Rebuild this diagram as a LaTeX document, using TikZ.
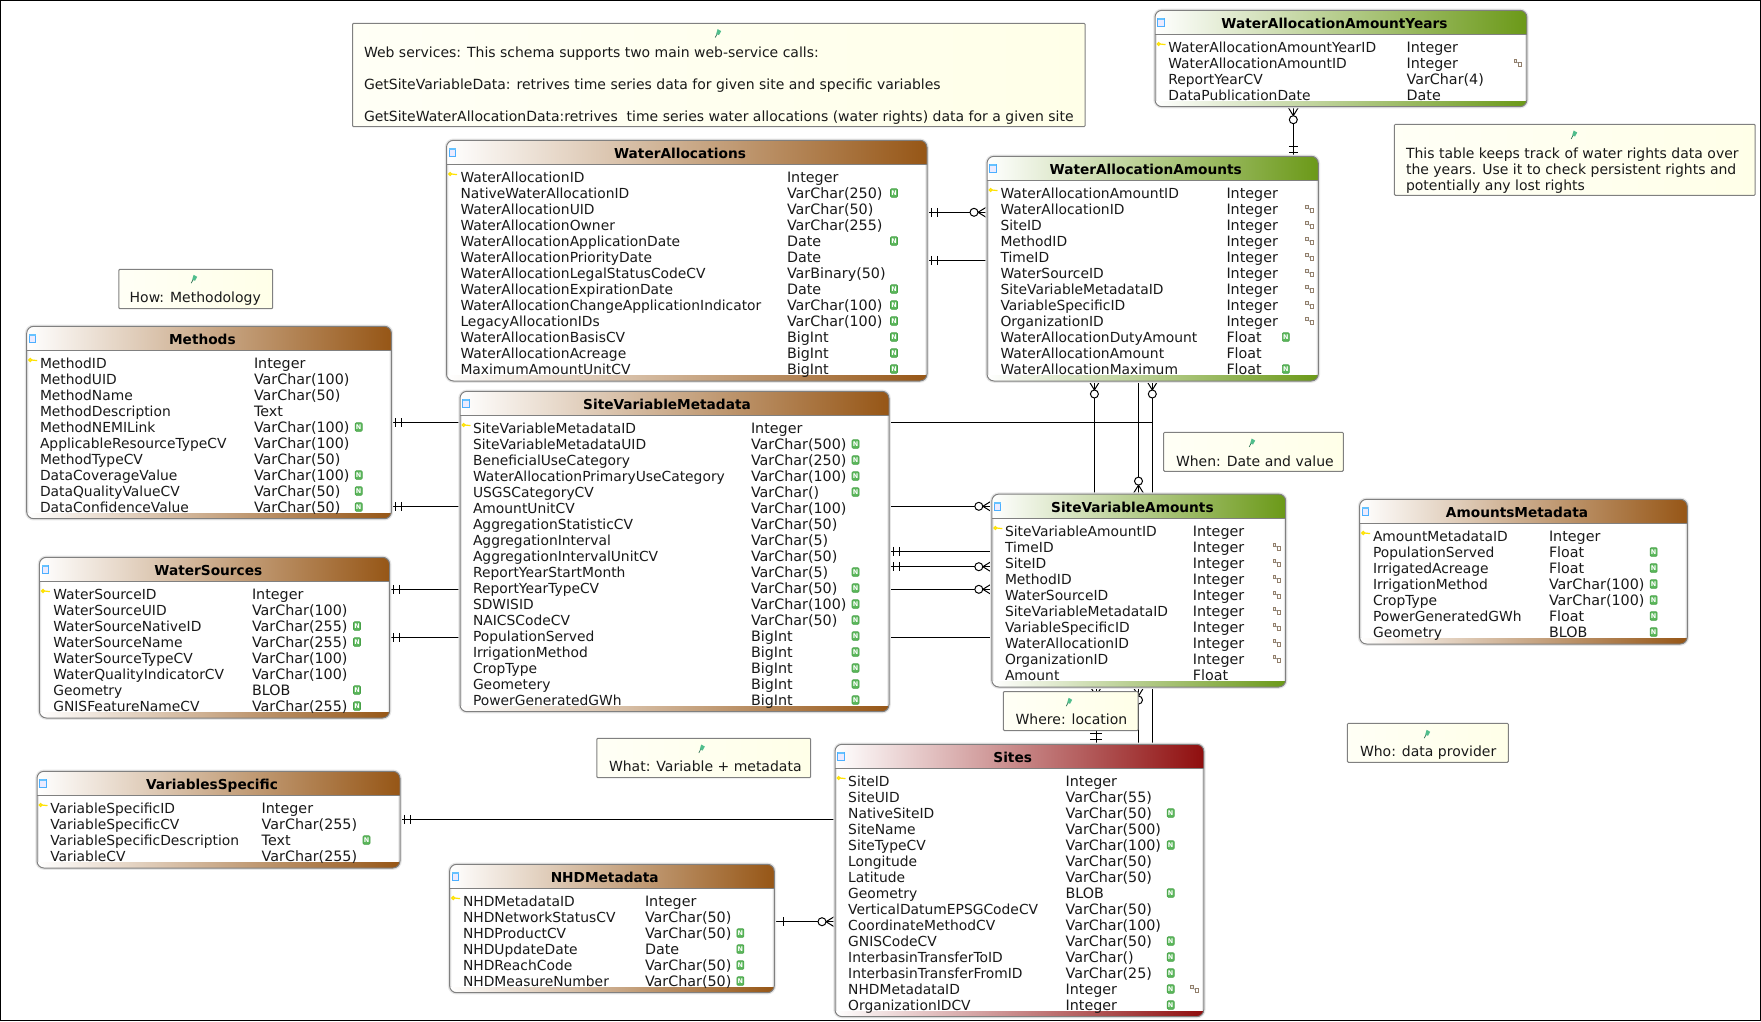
\documentclass[tikz,border=0pt]{standalone}
\usepackage{fontspec}
\setmainfont{DejaVu Sans}
\usetikzlibrary{calc}
\pgfdeclarelayer{bg}
\pgfsetlayers{bg,main}
\definecolor{hbrown}{RGB}{150,86,22}
\definecolor{hgreen}{RGB}{107,153,24}
\definecolor{hred}{RGB}{143,14,14}
\definecolor{edgegray}{RGB}{128,128,128}
\definecolor{halogray}{RGB}{230,230,230}
\definecolor{notefill}{RGB}{255,255,232}
\definecolor{txt}{RGB}{25,25,25}
\definecolor{nfill}{RGB}{92,184,92}
\definecolor{ndraw}{RGB}{70,160,70}
\definecolor{pinc}{RGB}{80,190,140}
\tikzset{
  tablebox/.style={draw=halogray,line width=3.5pt,fill=white,rounded corners=7pt,inner sep=0,outer sep=0},
  tableedge/.style={draw=edgegray,line width=1pt,rounded corners=7pt},
  headrule/.style={draw=edgegray,line width=1pt},
  titletext/.style={font=\fontsize{13.7}{16}\selectfont\bfseries,text=black,inner sep=0,outer sep=0,anchor=base},
  rowtext/.style={font=\fontsize{13.85}{16}\selectfont,text=txt,inner sep=0,outer sep=0,anchor=base west},
  typetext/.style={font=\fontsize{14.3}{16}\selectfont,text=txt,inner sep=0,outer sep=0,anchor=base west},
  nicon/.style={draw=ndraw,fill=nfill,text=white,rounded corners=1pt,minimum width=7pt,minimum height=8.5pt,inner sep=0,outer sep=0,line width=.6pt,font=\fontsize{6.5}{7}\selectfont\bfseries},
  notebox/.style={draw=edgegray,line width=1pt,left color=white!60!notefill,right color=notefill,inner sep=0,outer sep=0,rounded corners=1pt},
  notetext/.style={font=\fontsize{14}{16}\selectfont,text=txt,inner sep=0,outer sep=0,anchor=base west},
  conn/.style={draw=black,line width=1pt},
  markline/.style={draw=black,line width=1pt},
}
\newcommand\tblgeom[5]{\def\gL{#1}\def\gT{#2}\def\gR{#3}\def\gB{#4}\def\gC{#5}}
\def\flagO{}
\def\flagN{\node[nicon] (\tn-n\i) at (\nx,\ry) {N};}
\def\flagF{\fkicon{\fx}{\ry}}
\def\flagB{\flagN\flagF}
\newcommand\fkicon[2]{%
  \draw[line width=.7pt,draw=gray!70!brown,fill=gray!15] ({#1-4},{#2-4}) rectangle ++(2.6,3.6);
  \draw[line width=.7pt,draw=gray!70!brown,fill=white] ({#1+.6},{#2-.6}) rectangle ++(2.8,3.6);
  \draw[line width=.5pt,draw=gray] ({#1-1.4},{#2-1}) -- ({#1+.6},{#2+.6});
}
\newcommand\keyicon[2]{%
  \draw[line width=1.3pt,draw=yellow!85!orange] ({#1+1.6},{#2}) circle (1.4);
  \draw[line width=1.2pt,draw=yellow!85!orange] ({#1+3},{#2}) -- ({#1+8.5},{#2+.6});
}
\newcommand\pinicon[2]{%
  \fill[pinc] ({#1-.4},{#2-4.2}) -- ({#1+3.2},{#2-2.2}) -- ({#1+1},{#2+1.8}) -- ({#1-1.8},{#2+.6}) -- cycle;
  \draw[line width=.7pt,draw=pinc!60!black] ({#1-1},{#2+.8}) -- ({#1-2.8},{#2+4.2});
}
\newcommand\tbl[9]{%
  \def\tn{#1}\def\nx{#6}\def\fx{#7}%
  \pgfmathsetmacro\gW{\gR-\gL}\pgfmathsetmacro\gH{\gB-\gT}%
  \pgfmathsetmacro\gCx{(\gL+\gR)/2}\pgfmathsetmacro\gCy{(\gT+\gB)/2}%
  \pgfmathsetmacro\gHb{\gT+24}\pgfmathsetmacro\gBb{\gB-5.5}\pgfmathsetmacro\gTb{\gT+18}%
  \node[tablebox,minimum width=\gW pt,minimum height=\gH pt] (#1) at (\gCx,\gCy) {};
  \begin{scope}
    \clip[rounded corners=7pt] (\gL,\gT) rectangle (\gR,\gB);
    \shade[left color=white,right color=\gC] (\gL,\gT) rectangle (\gR,\gHb);
    \shade[left color=white,right color=\gC] (\gL,\gBb) rectangle (\gR,\gB);
  \end{scope}
  \draw[headrule] (\gL,\gHb) -- (\gR,\gHb);
  \draw[tableedge] (\gL,\gT) rectangle (\gR,\gB);
  \node[titletext] (#1-title) at (#3,\gTb) {#2};
  \draw[line width=.8pt,draw=blue!45!cyan!70,fill=blue!8] ({\gL+2.5},{\gT+8}) rectangle ({\gL+9},{\gT+16});
  \fill[blue!40!cyan!60] ({\gL+2.5},{\gT+8}) rectangle ({\gL+9},{\gT+10});
  \keyicon{\gL+2}{#8-3}
  \foreach \rn/\rt/\rf [count=\i from 0] in {#9}{%
    \pgfmathsetmacro\ry{#8+16*\i}\pgfmathsetmacro\ryb{\ry+5.3}%
    \node[rowtext] (#1-r\i) at (#4,\ryb) {\rn};
    \node[typetext] (#1-t\i) at (#5,\ryb) {\rt};
    \csname flag\rf\endcsname
  }%
}
\newcommand\notebx[5]{%
  \pgfmathsetmacro\gW{#4-#2}\pgfmathsetmacro\gH{#5-#3}%
  \pgfmathsetmacro\gCx{(#2+#4)/2}\pgfmathsetmacro\gCy{(#3+#5)/2}%
  \node[notebox,minimum width=\gW pt,minimum height=\gH pt] (#1) at (\gCx,\gCy) {};
}
\newcommand\barsmark[2]{\begin{scope}[shift={#1},rotate=#2]
  \draw[markline] (4,-4.5) -- (4,4.5) (10,-4.5) -- (10,4.5);\end{scope}}
\newcommand\barsmarkw[2]{\begin{scope}[shift={#1},rotate=#2]
  \draw[markline] (5,-6) -- (5,6) (11,-6) -- (11,6);\end{scope}}
\newcommand\barone[2]{\begin{scope}[shift={#1},rotate=#2]
  \draw[markline] (9,-4.5) -- (9,4.5);\end{scope}}
\newcommand\crowo[2]{\begin{scope}[shift={#1},rotate=#2]
  \draw[markline] (0,-5.5) -- (9,0) -- (0,5.5);
  \draw[markline,fill=white] (13,0) circle (4);\end{scope}}
\begin{document}
\begin{tikzpicture}[x=1pt,y=-1pt]
\useasboundingbox (0,0) rectangle (1761,1021);
\begin{pgfonlayer}{bg}
\fill[white] (0,0) rectangle (1761,1021);
\draw[black,line width=1pt] (.5,.5) rectangle (1760.5,1020.3);
\end{pgfonlayer}

\tblgeom{446.5}{140.3}{927}{381}{hbrown}
\tbl{WA}{WaterAllocations}{680}{460.5}{787}{894}{0}{177}{WaterAllocationID/Integer/O,NativeWaterAllocationID/VarChar(250)/N,WaterAllocationUID/VarChar(50)/O,WaterAllocationOwner/VarChar(255)/O,WaterAllocationApplicationDate/Date/N,WaterAllocationPriorityDate/Date/O,WaterAllocationLegalStatusCodeCV/VarBinary(50)/O,WaterAllocationExpirationDate/Date/N,WaterAllocationChangeApplicationIndicator/VarChar(100)/N,LegacyAllocationIDs/VarChar(100)/N,WaterAllocationBasisCV/BigInt/N,WaterAllocationAcreage/BigInt/N,MaximumAmountUnitCV/BigInt/N}

\tblgeom{26.7}{326.3}{391.4}{518.7}{hbrown}
\tbl{ME}{Methods}{202.4}{40}{254}{358.7}{0}{363}{MethodID/Integer/O,MethodUID/VarChar(100)/O,MethodName/VarChar(50)/O,MethodDescription/Text/O,MethodNEMILink/VarChar(100)/N,ApplicableResourceTypeCV/VarChar(100)/O,MethodTypeCV/VarChar(50)/O,DataCoverageValue/VarChar(100)/N,DataQualityValueCV/VarChar(50)/N,DataConfidenceValue/VarChar(50)/N}

\tblgeom{460}{391.3}{889}{711.7}{hbrown}
\tbl{SVM}{SiteVariableMetadata}{667}{473}{751}{855.5}{0}{428}{SiteVariableMetadataID/Integer/O,SiteVariableMetadataUID/VarChar(500)/N,BeneficialUseCategory/VarChar(250)/N,WaterAllocationPrimaryUseCategory/VarChar(100)/N,USGSCategoryCV/VarChar()/N,AmountUnitCV/VarChar(100)/O,AggregationStatisticCV/VarChar(50)/O,AggregationInterval/VarChar(5)/O,AggregationIntervalUnitCV/VarChar(50)/O,ReportYearStartMonth/VarChar(5)/N,ReportYearTypeCV/VarChar(50)/N,SDWISID/VarChar(100)/N,NAICSCodeCV/VarChar(50)/N,PopulationServed/BigInt/N,IrrigationMethod/BigInt/N,CropType/BigInt/N,Geometery/BigInt/N,PowerGeneratedGWh/BigInt/N}

\tblgeom{39.4}{557.3}{389.6}{718}{hbrown}
\tbl{WS}{WaterSources}{208.4}{53.3}{252}{357}{0}{594}{WaterSourceID/Integer/O,WaterSourceUID/VarChar(100)/O,WaterSourceNativeID/VarChar(255)/N,WaterSourceName/VarChar(255)/N,WaterSourceTypeCV/VarChar(100)/O,WaterQualityIndicatorCV/VarChar(100)/O,Geometry/BLOB/N,GNISFeatureNameCV/VarChar(255)/N}

\tblgeom{37}{771.3}{400}{868}{hbrown}
\tbl{VS}{VariablesSpecific}{212}{50.3}{261.7}{366.5}{0}{808}{VariableSpecificID/Integer/O,VariableSpecificCV/VarChar(255)/O,VariableSpecificDescription/Text/N,VariableCV/VarChar(255)/O}

\tblgeom{449.6}{864.3}{774.3}{992.7}{hbrown}
\tbl{NHD}{NHDMetadata}{604.7}{463}{645}{740.4}{0}{901}{NHDMetadataID/Integer/O,NHDNetworkStatusCV/VarChar(50)/O,NHDProductCV/VarChar(50)/N,NHDUpdateDate/Date/N,NHDReachCode/VarChar(50)/N,NHDMeasureNumber/VarChar(50)/N}

\tblgeom{1155}{10.3}{1526.9}{106.7}{hgreen}
\tbl{WAAY}{WaterAllocationAmountYears}{1334.5}{1168.4}{1406.6}{0}{1518}{47}{WaterAllocationAmountYearID/Integer/O,WaterAllocationAmountID/Integer/F,ReportYearCV/VarChar(4)/O,DataPublicationDate/Date/O}

\tblgeom{987}{156.3}{1318.3}{381}{hgreen}
\tbl{WAA}{WaterAllocationAmounts}{1145.7}{1000.5}{1226.5}{1285.8}{1309.6}{193}{WaterAllocationAmountID/Integer/O,WaterAllocationID/Integer/F,SiteID/Integer/F,MethodID/Integer/F,TimeID/Integer/F,WaterSourceID/Integer/F,SiteVariableMetadataID/Integer/F,VariableSpecificID/Integer/F,OrganizationID/Integer/F,WaterAllocationDutyAmount/Float/N,WaterAllocationAmount/Float/O,WaterAllocationMaximum/Float/N}

\tblgeom{991.8}{494.1}{1285.7}{687}{hgreen}
\tbl{SVA}{SiteVariableAmounts}{1132.4}{1005}{1192.8}{0}{1277}{531}{SiteVariableAmountID/Integer/O,TimeID/Integer/F,SiteID/Integer/F,MethodID/Integer/F,WaterSourceID/Integer/F,SiteVariableMetadataID/Integer/F,VariableSpecificID/Integer/F,WaterAllocationID/Integer/F,OrganizationID/Integer/F,Amount/Float/O}

\tblgeom{1359.6}{499.3}{1687.3}{644}{hbrown}
\tbl{AM}{AmountsMetadata}{1517}{1373}{1549}{1653.6}{0}{536}{AmountMetadataID/Integer/O,PopulationServed/Float/N,IrrigatedAcreage/Float/N,IrrigationMethod/VarChar(100)/N,CropType/VarChar(100)/N,PowerGeneratedGWh/Float/N,Geometry/BLOB/N}

\tblgeom{835}{744.3}{1203.8}{1016.6}{hred}
\tbl{ST}{Sites}{1012.7}{848.2}{1065.6}{1170.7}{1194.5}{781}{SiteID/Integer/O,SiteUID/VarChar(55)/O,NativeSiteID/VarChar(50)/N,SiteName/VarChar(500)/O,SiteTypeCV/VarChar(100)/N,Longitude/VarChar(50)/O,Latitude/VarChar(50)/O,Geometry/BLOB/N,VerticalDatumEPSGCodeCV/VarChar(50)/O,CoordinateMethodCV/VarChar(100)/O,GNISCodeCV/VarChar(50)/N,InterbasinTransferToID/VarChar()/N,InterbasinTransferFromID/VarChar(25)/N,NHDMetadataID/Integer/B,OrganizationIDCV/Integer/N}

% connectors
\begin{pgfonlayer}{bg}
\draw[conn] (WAAY.south -| 1293.3,0) -- (WAA.north -| 1293.3,0);
\draw[conn] (WA.east |- 0,212.3) -- (WAA.west |- 0,212.3);
\draw[conn] (WA.east |- 0,260.3) -- (WAA.west |- 0,260.3);
\draw[conn] (ME.east |- 0,422.5) -| (WAA.south -| 1152.3,0);
\draw[conn] (ME.east |- 0,506.3) -- (SVA.west |- 0,506.3);
\draw[conn] (WS.east |- 0,589.3) -- (SVA.west |- 0,589.3);
\draw[conn] (WS.east |- 0,637.3) -| (WAA.south -| 1094.4,0);
\draw[conn] (SVM.east |- 0,551.3) -- (SVA.west |- 0,551.3);
\draw[conn] (SVM.east |- 0,566.7) -- (SVA.west |- 0,566.7);
\draw[conn] (WAA.south -| 1138.5,0) -- (SVA.north -| 1138.5,0);
\draw[conn] (ST.north -| 1152.3,0) -- (WAA.south -| 1152.3,0);
\draw[conn] (SVA.south -| 1138.5,0) -- (ST.north -| 1138.5,0);
\draw[conn] (SVA.south -| 1096,0) -- (ST.north -| 1096,0);
\draw[conn] (VS.east |- 0,819.3) -- (ST.west |- 0,819.3);
\draw[conn] (NHD.east |- 0,921.7) -- (ST.west |- 0,921.7);
\crowo{(WAAY.south -| 1293.3,0)}{270}
\barsmark{(WAA.north -| 1293.3,0)}{90}
\barsmark{(WA.east |- 0,212.3)}{0}
\crowo{(WAA.west |- 0,212.3)}{180}
\barsmark{(WA.east |- 0,260.3)}{0}
\barsmark{(ME.east |- 0,422.5)}{0}
\crowo{(WAA.south -| 1152.3,0)}{270}
\barsmark{(ME.east |- 0,506.3)}{0}
\crowo{(SVA.west |- 0,506.3)}{180}
\barsmark{(WS.east |- 0,589.3)}{0}
\crowo{(SVA.west |- 0,589.3)}{180}
\barsmark{(WS.east |- 0,637.3)}{0}
\crowo{(WAA.south -| 1094.4,0)}{270}
\barsmark{(SVM.east |- 0,551.3)}{0}
\barsmark{(SVM.east |- 0,566.7)}{0}
\crowo{(SVA.west |- 0,566.7)}{180}
\crowo{(SVA.north -| 1138.5,0)}{90}
\crowo{(SVA.south -| 1138.5,0)}{270}
\crowo{(SVA.south -| 1096,0)}{270}
\barsmarkw{(ST.north -| 1096,0)}{90}
\barsmark{(VS.east |- 0,819.3)}{0}
\barone{(NHD.east |- 0,921.7)}{0}
\crowo{(ST.west |- 0,921.7)}{180}
\end{pgfonlayer}

% notes
\notebx{nWeb}{352.6}{23.3}{1085}{126.7}
\pinicon{718}{33.3}
\node[notetext] (nWebA) at (364,57) {Web services: This schema supports two main web-service calls:};
\node[notetext] (nWebB) at (364,89) {GetSiteVariableData: retrives time series data for given site and specific variables};
\node[notetext] (nWebC) at (364,121) {GetSiteWaterAllocationData:retrives\ \ time series water allocations (water rights) data for a given site};

\notebx{nHow}{118.8}{269.3}{272.7}{308.7}
\pinicon{194}{279}
\node[notetext] (nHowA) at (129.7,302.8) {How: Methodology};

\notebx{nWhat}{596.8}{738.3}{810.7}{777.7}
\pinicon{701.6}{748.7}
\node[notetext] (nWhatA) at (609,771.8) {What: Variable + metadata};

\notebx{nAlloc}{1394.4}{124.3}{1755.2}{195.3}
\pinicon{1574}{134.7}
\node[notetext] (nAllocA) at (1406,158) {This table keeps track of water rights data over};
\node[notetext] (nAllocB) at (1406,174) {the years. Use it to check persistent rights and};
\node[notetext] (nAllocC) at (1406,190) {potentially any lost rights};

\notebx{nWhen}{1163.7}{432.3}{1343.3}{471.3}
\pinicon{1252}{442.7}
\node[notetext] (nWhenA) at (1176,466) {When: Date and value};

\notebx{nWhere}{1003.4}{691.5}{1138.2}{730.5}
\pinicon{1069}{702}
\node[notetext] (nWhereA) at (1015.6,724.7) {Where: location};

\notebx{nWho}{1347.4}{723.3}{1508.3}{762.3}
\pinicon{1427}{734}
\node[notetext] (nWhoA) at (1360,756.7) {Who: data provider};
\end{tikzpicture}
\end{document}
